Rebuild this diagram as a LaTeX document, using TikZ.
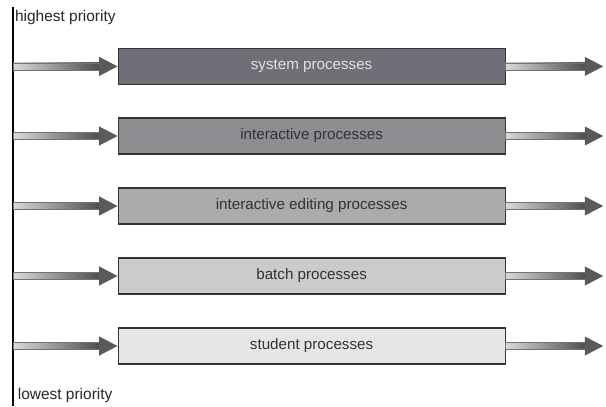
\documentclass[tikz,border=0pt]{standalone}
\usepackage{fontspec}
\setmainfont{Liberation Sans}
\usetikzlibrary{calc}

\definecolor{sysgray}{HTML}{6F6F78}
\definecolor{intgray}{HTML}{8E8E92}
\definecolor{editgray}{HTML}{ABABAD}
\definecolor{batchgray}{HTML}{CBCBCB}
\definecolor{studgray}{HTML}{E6E6E6}
\definecolor{tipgray}{HTML}{5A5A5A}

% shaded arrow from #1 to #2
\newcommand{\feedarrow}[2]{%
  \shade[left color=black!15,right color=black!70,draw=black!55,line width=0.3pt]
    ($(#1)+(0,-0.085)$) rectangle ($(#2)+(-0.42,0.085)$);
  \fill[tipgray] ($(#2)+(-0.46,0.24)$) -- (#2) -- ($(#2)+(-0.46,-0.24)$) -- cycle;}

\begin{document}
\begin{tikzpicture}[queue/.style={draw=black!80,line width=0.8pt,minimum width=9.675cm,minimum height=0.9cm,inner sep=0pt,text=black!80,font=\fontsize{10.8}{12}\selectfont}]
   \useasboundingbox (0,0) rectangle (15.15,10.15);
   \draw[line width=1.3pt] (0.325,9.98) -- (0.325,0);
   \node[anchor=west,inner sep=0pt,text=black!85,font=\fontsize{11}{12}\selectfont] (high) at (0.37,9.7) {highest priority};
   \node[anchor=west,inner sep=0pt,text=black!85,font=\fontsize{11}{12}\selectfont] (low) at (0.44,0.27) {lowest priority};
   \begin{scope}[every node/.style={queue}]
    \node[fill=sysgray,text=black!12] (q1) at (7.79,8.49) {system processes};
    \node[fill=intgray] (q2) at (7.79,6.75) {interactive processes};
    \node[fill=editgray] (q3) at (7.79,5.0) {interactive editing processes};
    \node[fill=batchgray] (q4) at (7.79,3.25) {batch processes};
    \node[fill=studgray] (q5) at (7.79,1.5) {student processes};
   \end{scope}
   \coordinate (in1) at (0.34,8.49);
   \coordinate (in2) at (0.34,6.75);
   \coordinate (in3) at (0.34,5.0);
   \coordinate (in4) at (0.34,3.25);
   \coordinate (in5) at (0.34,1.5);
   \coordinate (out1) at (15.08,8.49);
   \coordinate (out2) at (15.08,6.75);
   \coordinate (out3) at (15.08,5.0);
   \coordinate (out4) at (15.08,3.25);
   \coordinate (out5) at (15.08,1.5);
   \feedarrow{in1}{q1.west}
   \feedarrow{in2}{q2.west}
   \feedarrow{in3}{q3.west}
   \feedarrow{in4}{q4.west}
   \feedarrow{in5}{q5.west}
   \feedarrow{q1.east}{out1}
   \feedarrow{q2.east}{out2}
   \feedarrow{q3.east}{out3}
   \feedarrow{q4.east}{out4}
   \feedarrow{q5.east}{out5}
\end{tikzpicture}
\end{document}
